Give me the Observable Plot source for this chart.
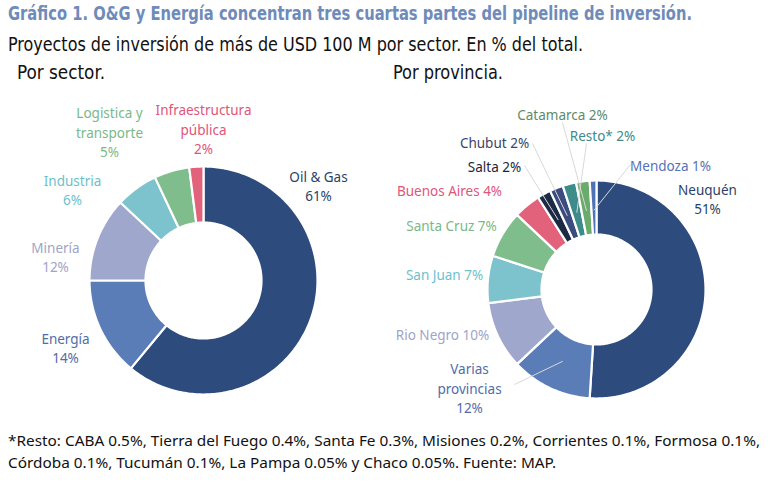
<!DOCTYPE html>
<html>
<head>
<meta charset="utf-8">
<script src="https://cdn.jsdelivr.net/npm/d3@7"></script>
<script src="https://cdn.jsdelivr.net/npm/@observablehq/plot@0.6"></script>
<style>
  body { margin: 0; background: #fff; width: 780px; height: 489px; overflow: hidden; position: relative; }
  .narrow { font-family: "Liberation Sans Narrow", "DejaVu Sans Condensed", sans-serif; }
  .fit { position: absolute; white-space: nowrap; transform-origin: left center; }
  #title { left: 8px; top: 2px; font-size: 19px; font-weight: bold; color: #6E8BBA; }
  #subtitle { left: 8px; top: 33px; font-size: 19px; color: #111; }
  .head { top: 61px; font-size: 19px; color: #111; }
  #chart { position: absolute; left: 0; top: 85px; }
  .foot { left: 8px; font-family: "Noto Sans", sans-serif; font-size: 14.2px; color: #111; }
</style>
</head>
<body>
<div id="title" class="narrow fit">Gráfico 1. O&amp;G y Energía concentran tres cuartas partes del pipeline de inversión.</div>
<div id="subtitle" class="narrow fit">Proyectos de inversión de más de USD 100 M por sector. En % del total.</div>
<div id="h1" class="head narrow fit" style="left:17px">Por sector.</div>
<div id="h2" class="head narrow fit" style="left:393px">Por provincia.</div>
<div id="chart"></div>
<div id="f1" class="foot fit" style="top:431px">*Resto: CABA 0.5%, Tierra del Fuego 0.4%, Santa Fe 0.3%, Misiones 0.2%, Corrientes 0.1%, Formosa 0.1%,</div>
<div id="f2" class="foot fit" style="top:453px">Córdoba 0.1%, Tucumán 0.1%, La Pampa 0.05% y Chaco 0.05%. Fuente: MAP.</div>
<script>
// ---- data ----
const sectorNames = ["Oil & Gas", "Energía", "Minería", "Industria", "Logistica y transporte", "Infraestructura pública"];
const sectorValues = [61, 14, 12, 6, 5, 2];
const sectorLabels = ["Oil & Gas\n61%", "Energía\n14%", "Minería\n12%", "Industria\n6%", "Logistica y\ntransporte\n5%", "Infraestructura\npública\n2%"];

const provNames = ["Neuquén", "Varias provincias", "Rio Negro", "San Juan", "Santa Cruz", "Buenos Aires", "Salta", "Chubut", "Resto*", "Catamarca", "Mendoza"];
const provValues = [51, 12, 10, 7, 7, 4, 2, 2, 2, 2, 1];
const provLabels = ["Neuquén\n51%", "Varias\nprovincias\n12%", "Rio Negro 10%", "San Juan 7%", "Santa Cruz 7%", "Buenos Aires 4%", "Salta 2%", "Chubut 2%", "Resto* 2%", "Catamarca 2%", "Mendoza 1%"];

// ---- styles ----
const sliceColor = {
  "Oil & Gas": "#2E4B7E", "Energía": "#5A7DB7", "Minería": "#9FA8CC", "Industria": "#7DC3CE",
  "Logistica y transporte": "#7FBE8C", "Infraestructura pública": "#E2617B",
  "Neuquén": "#2E4B7E", "Varias provincias": "#5A7DB7", "Rio Negro": "#9FA8CC", "San Juan": "#7DC3CE",
  "Santa Cruz": "#7FBE8C", "Buenos Aires": "#E2617B", "Salta": "#1B2A45", "Chubut": "#3A4C80",
  "Resto*": "#3E8C8A", "Catamarca": "#6AAA6A", "Mendoza": "#4F74B6"
};
const labelColor = {
  "Oil & Gas": "#2B3F68", "Energía": "#4F6DAA", "Minería": "#A0A4C8", "Industria": "#6DBFCB",
  "Logistica y transporte": "#7BB888", "Infraestructura pública": "#E0557A",
  "Neuquén": "#2B3F68", "Varias provincias": "#4F6DAA", "Rio Negro": "#A0A4C8", "San Juan": "#6DBFCB",
  "Santa Cruz": "#7BB888", "Buenos Aires": "#E0557A", "Salta": "#1F2538", "Chubut": "#3C4468",
  "Resto*": "#3F8B8A", "Catamarca": "#5E8A6C", "Mendoza": "#5472B8"
};

// ---- layout (pixels in the plot frame) ----
const W = 780, H = 335;
const donuts = {
  sector: { cx: 203, cy: 195, r0: 58, r1: 114 },
  prov:   { cx: 596, cy: 204, r0: 55, r1: 109 }
};
const labelOffset = {
  "Oil & Gas": [115, -95], "Energía": [-138, 67], "Minería": [-148, -24], "Industria": [-131, -91],
  "Logistica y transporte": [-94, -149], "Infraestructura pública": [0, -152],
  "Neuquén": [111, -91], "Varias provincias": [-127, 98], "Rio Negro": [-154, 44], "San Juan": [-152, -16],
  "Santa Cruz": [-145, -65], "Buenos Aires": [-147, -100], "Salta": [-102, -124], "Chubut": [-102, -148],
  "Catamarca": [-34, -176], "Resto*": [6, -155], "Mendoza": [74, -125]
};
const leaderStart = {
  "Varias provincias": [-82, 95], "Salta": [-72, -124], "Chubut": [-64, -146],
  "Catamarca": [-34, -167], "Resto*": [-10, -146], "Mendoza": [34, -125]
};

function buildSlices(key, names, values) {
  const d = donuts[key];
  const total = d3.sum(values);
  const pts = [], mids = {};
  let acc = 0;
  names.forEach((n, i) => {
    const a0 = acc / total * 2 * Math.PI;
    acc += values[i];
    const a1 = acc / total * 2 * Math.PI;
    mids[n] = (a0 + a1) / 2;
    const steps = Math.max(2, Math.ceil((a1 - a0) / (Math.PI / 180)));
    for (let k = 0; k <= steps; k++) {
      const a = a0 + (a1 - a0) * k / steps;
      pts.push({ name: n, x: d.cx + d.r1 * Math.sin(a), y: d.cy - d.r1 * Math.cos(a), color: sliceColor[n] });
    }
    for (let k = steps; k >= 0; k--) {
      const a = a0 + (a1 - a0) * k / steps;
      pts.push({ name: n, x: d.cx + d.r0 * Math.sin(a), y: d.cy - d.r0 * Math.cos(a), color: sliceColor[n] });
    }
  });
  return { pts, mids };
}

function buildLabels(key, names, labels) {
  const d = donuts[key];
  return names.map((n, i) => ({
    name: n, text: labels[i], color: labelColor[n],
    x: d.cx + labelOffset[n][0], y: d.cy + labelOffset[n][1]
  }));
}

const s1 = buildSlices("sector", sectorNames, sectorValues);
const s2 = buildSlices("prov", provNames, provValues);
const lab1 = buildLabels("sector", sectorNames, sectorLabels);
const lab2 = buildLabels("prov", provNames, provLabels);

const dp = donuts.prov;
const leaders = Object.keys(leaderStart).map(n => {
  const a = s2.mids[n], rr = dp.r0 + (dp.r1 - dp.r0) * 0.45;
  return {
    x1: dp.cx + leaderStart[n][0], y1: dp.cy + leaderStart[n][1],
    x2: dp.cx + rr * Math.sin(a), y2: dp.cy - rr * Math.cos(a)
  };
});

const font = "'Noto Sans', sans-serif";
const chart = Plot.plot({
  width: W, height: H,
  margin: 0,
  x: { domain: [0, W], range: [0, W], axis: null },
  y: { domain: [0, H], range: [0, H], axis: null },
  color: { type: "identity" },
  style: { fontFamily: font, background: "white" },
  marks: [
    Plot.line(s1.pts, { x: "x", y: "y", z: "name", fill: "color", stroke: "white", strokeWidth: 2.2, curve: "linear-closed" }),
    Plot.line(s2.pts, { x: "x", y: "y", z: "name", fill: "color", stroke: "white", strokeWidth: 2.2, curve: "linear-closed" }),
    Plot.link(leaders, { x1: "x1", y1: "y1", x2: "x2", y2: "y2", stroke: "#d9d9d9", strokeWidth: 1 }),
    Plot.text(lab1, { x: "x", y: "y", text: "text", fill: "color", fontSize: 13.5, lineHeight: 1.42 }),
    Plot.text(lab2, { x: "x", y: "y", text: "text", fill: "color", fontSize: 13.5, lineHeight: 1.42 })
  ]
});
document.getElementById("chart").appendChild(chart);

// fit header / footer text widths to the reference layout
function fit(id, target) {
  const el = document.getElementById(id);
  const w = el.getBoundingClientRect().width;
  el.style.transform = `scaleX(${target / w})`;
  return target / w;
}
fit("title", 684);
fit("subtitle", 575);
fit("h1", 88);
fit("h2", 110);
const k = fit("f1", 752);
document.getElementById("f2").style.transform = `scaleX(${k})`;
</script>
</body>
</html>
